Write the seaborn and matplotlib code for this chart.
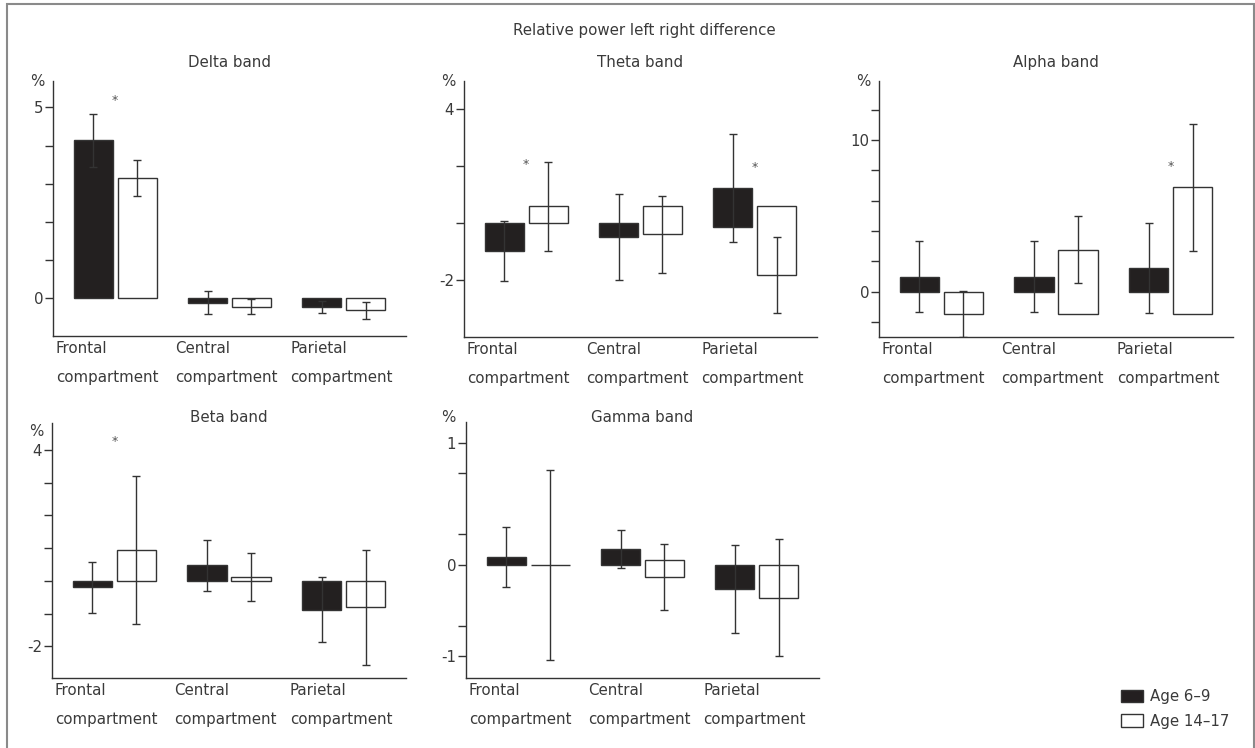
import matplotlib
matplotlib.use("Agg")
import matplotlib.pyplot as plt
import pandas as pd
import seaborn as sns
from matplotlib.patches import Patch, Rectangle

# -------------------------------
# Data
# -------------------------------
regions = ["Frontal\ncompartment", "Central\ncompartment", "Parietal\ncompartment"]
age_groups = ["Age 6\u20139", "Age 14\u201317"]

delta_young = [4.14, -0.12, -0.23]
delta_young_sd = [0.69, 0.30, 0.15]
delta_old = [3.15, -0.22, -0.32]
delta_old_sd = [0.48, 0.19, 0.22]

theta_young = [-1.0, -0.51, 1.22]
theta_young_sd = [1.05, 1.50, 1.90]
theta_young_base = [0, 0, -0.16]
theta_old = [0.57, -0.40, -1.84]
theta_old_sd = [1.56, 1.35, 1.34]
theta_old_base = [0, 0.57, 0.57]

alpha_young = [1.0, 1.0, 1.57]
alpha_young_sd = [2.37, 2.37, 2.97]
alpha_old = [-1.5, 2.78, 6.88]
alpha_old_sd = [1.52, 2.19, 4.19]
alpha_old_base = [0, -1.49, -1.49]

beta_young = [-0.20, 0.47, -0.88]
beta_young_sd = [0.78, 0.77, 1.00]
beta_old = [0.95, 0.12, -0.81]
beta_old_sd = [2.26, 0.74, 1.76]

gamma_young = [0.063, 0.13, -0.20]
gamma_young_sd = [0.247, 0.155, 0.362]
gamma_old = [0.0, -0.10, -0.27]
gamma_old_sd = [0.78, 0.273, 0.48]
gamma_old_base = [0, 0.038, 0]

# significance stars: (region index, y value)
delta_stars = [(0, 5.17)]
theta_stars = [(0, 2.05), (2, 1.92)]
alpha_stars = [(2, 8.26)]
beta_stars = [(0, 4.24)]
gamma_stars = []

delta_ticks = [0, 1, 2, 3, 4, 5]
delta_ticklabels = ["0", "", "", "", "", "5"]
theta_ticks = [-2, 0, 2, 4]
theta_ticklabels = ["-2", "", "", "4"]
alpha_ticks = [-2, 0, 2, 4, 6, 8, 10, 12]
alpha_ticklabels = ["", "0", "", "", "", "", "10", ""]
beta_ticks = [-2, -1, 0, 1, 2, 3, 4]
beta_ticklabels = ["-2", "", "", "", "", "", "4"]
gamma_ticks = [-0.75, -0.5, 0, 0.25, 0.75, 1]
gamma_ticklabels = ["-1", "", "0", "", "", "1"]

# -------------------------------
# Style
# -------------------------------
sns.set_style("ticks")
plt.rcParams["font.family"] = ["DejaVu Sans"]
TEXT = "#3a3a3a"
LINE = "#333333"
BLACK = "#231f20"
FS = 10.8

W, H = 1255, 748
fig = plt.figure(figsize=(W / 100, H / 100), dpi=100)


def add_axes(left, right, top, bottom):
    return fig.add_axes([left / W, 1 - bottom / H, (right - left) / W, (bottom - top) / H])


def draw_band(ax, title, young, young_sd, old, old_sd, ylim, ticks, ticklabels,
              stars, young_base=None, old_base=None, title_dy=19, pct_dx=-16, pct_dy=0):
    young_base = young_base or [0, 0, 0]
    old_base = old_base or [0, 0, 0]
    df = pd.DataFrame({
        "region": regions * 2,
        "group": [age_groups[0]] * 3 + [age_groups[1]] * 3,
        "value": young + old,
    })
    sns.barplot(data=df, x="region", y="value", hue="group", order=regions,
                hue_order=age_groups, palette={age_groups[0]: BLACK, age_groups[1]: "white"},
                edgecolor=LINE, linewidth=1, width=0.77, gap=0.11, errorbar=None,
                legend=False, ax=ax)

    # bars sorted left to right: F-young, F-old, C-young, C-old, P-young, P-old
    bars = sorted(ax.patches, key=lambda p: p.get_x())
    vals, sds, bases = [], [], []
    for i in range(3):
        vals += [young[i], old[i]]
        sds += [young_sd[i], old_sd[i]]
        bases += [young_base[i], old_base[i]]
    xs = []
    for bar, v, b in zip(bars, vals, bases):
        bar.set_y(b)
        bar.set_height(v - b)
        xs.append(bar.get_x() + bar.get_width() / 2)
    ax.errorbar(xs, vals, yerr=sds, fmt="none", ecolor=LINE, elinewidth=1,
                capsize=3, capthick=1, zorder=5)

    for idx, y in stars:
        ax.text(idx, y, "*", ha="center", va="center", fontsize=9, color="#555555")

    ax.set_xlim(-0.545, 2.545)
    ax.set_ylim(*ylim)
    ax.set_yticks(ticks, ticklabels)
    offsets = [-0.52, -0.475, -0.47]
    ax.set_xticks([i + o for i, o in enumerate(offsets)], regions)
    for t in ax.get_xticklabels():
        t.set_ha("left")
        t.set_linespacing(2.15)
    ax.tick_params(axis="x", length=0, pad=3.5, labelsize=FS, labelcolor=TEXT)
    ax.tick_params(axis="y", length=5.5, width=1, color=LINE, pad=1.5,
                   labelsize=FS, labelcolor=TEXT, direction="out")
    ax.set_xlabel("")
    ax.set_ylabel("")
    sns.despine(ax=ax)
    for s in ["left", "bottom"]:
        ax.spines[s].set_color(LINE)
        ax.spines[s].set_linewidth(1)
    ax.annotate(title, xy=(0.5, 1), xycoords="axes fraction", xytext=(0, title_dy),
                textcoords="offset pixels", ha="center", va="center", fontsize=FS, color=TEXT)
    ax.annotate("%", xy=(0, 1), xycoords="axes fraction", xytext=(pct_dx, pct_dy),
                textcoords="offset pixels", ha="center", va="center", fontsize=FS, color=TEXT)


ax_delta = add_axes(53, 406, 81, 336)
ax_theta = add_axes(464, 817, 81, 337)
ax_alpha = add_axes(879, 1233, 81, 337)
ax_beta = add_axes(52, 406, 423, 678)
ax_gamma = add_axes(466, 819, 422, 678)

draw_band(ax_delta, "Delta band", delta_young, delta_young_sd, delta_old, delta_old_sd,
          (-0.99, 5.69), delta_ticks, delta_ticklabels, delta_stars)
draw_band(ax_theta, "Theta band", theta_young, theta_young_sd, theta_old, theta_old_sd,
          (-4.01, 4.97), theta_ticks, theta_ticklabels, theta_stars,
          young_base=theta_young_base, old_base=theta_old_base)
draw_band(ax_alpha, "Alpha band", alpha_young, alpha_young_sd, alpha_old, alpha_old_sd,
          (-2.99, 13.9), alpha_ticks, alpha_ticklabels, alpha_stars, old_base=alpha_old_base)
draw_band(ax_beta, "Beta band", beta_young, beta_young_sd, beta_old, beta_old_sd,
          (-2.97, 4.82), beta_ticks, beta_ticklabels, beta_stars, title_dy=5, pct_dy=-8)
draw_band(ax_gamma, "Gamma band", gamma_young, gamma_young_sd, gamma_old, gamma_old_sd,
          (-0.93, 1.17), gamma_ticks, gamma_ticklabels, gamma_stars,
          old_base=gamma_old_base, title_dy=4, pct_dx=-18, pct_dy=4)

fig.text(644 / W, 1 - 30 / H, "Relative power left right difference", ha="center",
         va="center", fontsize=FS, color=TEXT)

handles = [Patch(facecolor=BLACK, edgecolor=LINE, linewidth=1),
           Patch(facecolor="white", edgecolor=LINE, linewidth=1)]
fig.legend(handles, age_groups, loc="upper left", bbox_to_anchor=(1121 / W, 1 - 689 / H),
           frameon=False, borderpad=0, borderaxespad=0, handlelength=1.45, handleheight=0.9,
           handletextpad=0.45, labelspacing=0.65, fontsize=FS, labelcolor=TEXT)

# outer frame
fig.add_artist(Rectangle((7 / W, -0.01), (1254 - 7) / W, 1.01 - 4 / H,
                         transform=fig.transFigure, fill=False, edgecolor="#8a8a8a", linewidth=1.5))

fig.savefig("out.png", dpi=100)
